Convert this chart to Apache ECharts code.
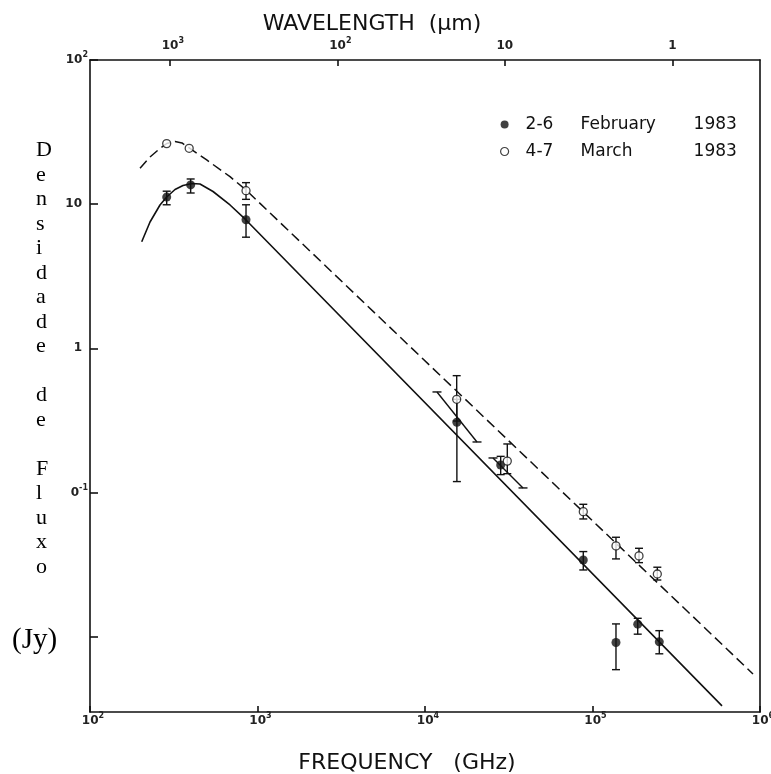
<!DOCTYPE html>
<html>
<head>
<meta charset="utf-8">
<script src="https://cdn.jsdelivr.net/npm/echarts@6/dist/echarts.min.js"></script>
<style>html,body{margin:0;padding:0;background:#fff;overflow:hidden}#c{width:771px;height:774px}</style>
</head>
<body>
<div id="c"></div>
<script>
// ---------- data ----------
const febName = '2-6 February 1983';
const marName = '4-7 March 1983';

const febFreq    = [287, 399, 854, 15500, 28300, 88100, 138100, 186200, 250500];
const febFlux    = [11.2, 13.6, 7.8, 0.307, 0.155, 0.034, 0.0091, 0.0122, 0.0092];
const febErrLow  = [9.9, 11.95, 5.9, 0.119, 0.133, 0.029, 0.0059, 0.0104, 0.0076];
const febErrHigh = [12.3, 14.95, 9.9, 0.443, 0.178, 0.0389, 0.01225, 0.0134, 0.011];

const marFreq    = [287, 391, 854, 15460, 31000, 88100, 138100, 189500, 243800];
const marFlux    = [26.3, 24.4, 12.4, 0.443, 0.165, 0.0736, 0.0426, 0.0363, 0.0272];
const marErrLow  = [null, null, 10.8, 0.313, 0.135, 0.0655, 0.0346, 0.0326, 0.0247];
const marErrHigh = [null, null, 14.1, 0.646, 0.217, 0.0828, 0.0489, 0.041, 0.0303];

const febModelFreq = [203.6, 228.2, 261.7, 287.0, 321.8, 359.1, 406.4, 453.6, 542.5, 685.4, 853.6, 593200];
const febModelFlux = [5.49, 7.52, 9.87, 11.21, 12.64, 13.48, 13.91, 13.80, 12.24, 9.87, 7.77, 0.003306];

const marModelFreq = [198.9, 228.2, 261.7, 287.0, 321.8, 354.2, 391.6, 497.5, 685.4, 853.6, 908300];
const marModelFlux = [17.74, 21.25, 24.33, 26.35, 27.21, 26.57, 24.53, 20.25, 15.51, 12.54, 0.005509];

// slanted spectral-slope bars: start (freq, flux) -> end (freq, flux)
const slopeStartFreq = [11790, 25470];
const slopeStartFlux = [0.498, 0.1735];
const slopeEndFreq   = [20440, 38470];
const slopeEndFlux   = [0.224, 0.1075];

// ticks
const freqTicks = [1e2, 1e3, 1e4, 1e5, 1e6];
const freqTickLabels = ['10^2', '10^3', '10^4', '10^5', '10^6'];
const fluxTicks = [0.01, 0.1, 1, 10, 100];
const fluxTickLabels = ['10^-2', '10^-1', '1', '10', '10^2'];
const wavelengthTicks = [1000, 100, 10, 1];          // micrometres
const wavelengthTickLabels = ['10^3', '10^2', '10', '1'];
const C_GHZ_UM = 2.998e5;                            // nu(GHz) = c / lambda(um)

// ---------- helpers ----------
function pickLabel(v, ticks, labels) {
  let best = -1, bd = Infinity;
  ticks.forEach((t, i) => { const d = Math.abs(Math.log10(v) - Math.log10(t)); if (d < bd) { bd = d; best = i; } });
  return bd < 0.01 ? labels[best] : '';
}
function richX(s) {
  const p = s.split('^');
  return p.length > 1 ? '{bp|' + p[0] + '}{s|' + p[1] + '}' : '{b|' + p[0] + '}';
}
function richY(s) {
  const p = s.split('^');
  return p.length > 1 ? '{b|' + p[0] + '}{s|' + p[1] + '}' : '{bq|' + p[0] + '}';
}
const FF = 'DejaVu Sans';
const baseTok = { fontSize: 12, fontWeight: 'bold', lineHeight: 18, color: '#222', fontFamily: FF };
const richStyles = {
  b: baseTok,
  bp: Object.assign({}, baseTok, { padding: [0, 0, 0, 6] }),
  bq: Object.assign({}, baseTok, { padding: [0, 6, 0, 0] }),
  s: { fontSize: 8, fontWeight: 'bold', lineHeight: 9, verticalAlign: 'top', color: '#222', fontFamily: FF }
};

const zip = (a, b) => a.map((v, i) => [v, b[i]]);
const errRows = (f, lo, hi) => f.map((v, i) => [v, lo[i], hi[i]]).filter(r => r[1] != null);

function errRender(params, api) {
  const x = api.value(0);
  const p1 = api.coord([x, api.value(1)]);
  const p2 = api.coord([x, api.value(2)]);
  const w = 4, st = { stroke: '#111', lineWidth: 1.4 };
  return { type: 'group', children: [
    { type: 'line', shape: { x1: p1[0], y1: p1[1], x2: p2[0], y2: p2[1] }, style: st },
    { type: 'line', shape: { x1: p1[0] - w, y1: p1[1], x2: p1[0] + w, y2: p1[1] }, style: st },
    { type: 'line', shape: { x1: p2[0] - w, y1: p2[1], x2: p2[0] + w, y2: p2[1] }, style: st }
  ]};
}
function slopeRender(params, api) {
  const a = api.coord([api.value(0), api.value(1)]);
  const b = api.coord([api.value(2), api.value(3)]);
  const w = 4.5, st = { stroke: '#111', lineWidth: 1.4 };
  return { type: 'group', children: [
    { type: 'line', shape: { x1: a[0], y1: a[1], x2: b[0], y2: b[1] }, style: st },
    { type: 'line', shape: { x1: a[0] - w, y1: a[1], x2: a[0] + w, y2: a[1] }, style: st },
    { type: 'line', shape: { x1: b[0] - w, y1: b[1], x2: b[0] + w, y2: b[1] }, style: st }
  ]};
}

const axisLineStyle = { color: '#111', width: 1.6 };
const wlFreq = wavelengthTicks.map(l => C_GHZ_UM / l);

const chart = echarts.init(document.getElementById('c'), null, { renderer: 'canvas', width: 771, height: 774 });
chart.setOption({
  animation: false,
  backgroundColor: '#fff',
  textStyle: { fontFamily: FF },
  grid: { left: 90, right: 11, top: 60, bottom: 62, containLabel: false, outerBoundsMode: 'none' },
  xAxis: [
    { type: 'log', min: 100, max: 1e6, position: 'bottom',
      axisLine: { show: true, lineStyle: axisLineStyle },
      axisTick: { show: true, inside: true, length: 6, lineStyle: axisLineStyle, customValues: freqTicks },
      axisLabel: { margin: 0, customValues: freqTicks, rich: richStyles,
        formatter: v => richX(pickLabel(v, freqTicks, freqTickLabels)) },
      splitLine: { show: false }, minorTick: { show: false } },
    { type: 'log', min: 100, max: 1e6, position: 'top',
      axisLine: { show: true, lineStyle: axisLineStyle },
      axisTick: { show: true, inside: true, length: 6, lineStyle: axisLineStyle, customValues: wlFreq },
      axisLabel: { margin: 5, customValues: wlFreq, rich: richStyles,
        formatter: v => richX(pickLabel(v, wlFreq, wavelengthTickLabels)) },
      splitLine: { show: false } }
  ],
  yAxis: [
    { type: 'log', min: 0.003, max: 100, position: 'left',
      axisLine: { show: true, lineStyle: axisLineStyle },
      axisTick: { show: true, inside: true, length: 8, lineStyle: axisLineStyle, customValues: fluxTicks },
      axisLabel: { margin: 2, customValues: fluxTicks, rich: richStyles,
        formatter: v => richY(pickLabel(v, fluxTicks, fluxTickLabels)) },
      splitLine: { show: false } },
    { type: 'log', min: 0.003, max: 100, position: 'right',
      axisLine: { show: true, lineStyle: axisLineStyle },
      axisTick: { show: false }, axisLabel: { show: false }, splitLine: { show: false } }
  ],
  legend: {
    orient: 'vertical', left: 495, top: 111, itemWidth: 8, itemHeight: 8, itemGap: 10,
    selectedMode: false,
    data: [
      { name: febName, icon: 'circle', itemStyle: { color: '#111', borderWidth: 0 } },
      { name: marName, icon: 'circle', itemStyle: { color: '#fff', borderColor: '#111', borderWidth: 1.2 } }
    ],
    formatter: name => { const p = name.split(' '); return '{a|' + p[0] + '}{m|' + p[1] + '}{y|' + p[2] + '}'; },
    textStyle: { rich: {
      a: { fontFamily: FF, fontSize: 17, color: '#111', lineHeight: 20, width: 55, padding: [0, 0, 0, 12] },
      m: { fontFamily: FF, fontSize: 17, color: '#111', lineHeight: 20, width: 113 },
      y: { fontFamily: FF, fontSize: 17, color: '#111', lineHeight: 20 }
    } }
  },
  series: [
    { name: 'febModel', type: 'line', xAxisIndex: 0, yAxisIndex: 0, data: zip(febModelFreq, febModelFlux),
      symbol: 'none', silent: true, z: 2, lineStyle: { color: '#111', width: 1.6 } },
    { name: 'marModel', type: 'line', xAxisIndex: 0, yAxisIndex: 0, data: zip(marModelFreq, marModelFlux),
      symbol: 'none', silent: true, z: 2, lineStyle: { color: '#111', width: 1.5, type: [10, 5] } },
    { name: 'febErr', type: 'custom', xAxisIndex: 0, yAxisIndex: 0, renderItem: errRender, z: 3,
      data: errRows(febFreq, febErrLow, febErrHigh), encode: { x: 0, y: [1, 2] }, silent: true },
    { name: 'marErr', type: 'custom', xAxisIndex: 0, yAxisIndex: 0, renderItem: errRender, z: 3,
      data: errRows(marFreq, marErrLow, marErrHigh), encode: { x: 0, y: [1, 2] }, silent: true },
    { name: 'slopes', type: 'custom', xAxisIndex: 0, yAxisIndex: 0, renderItem: slopeRender, z: 3,
      data: slopeStartFreq.map((f, i) => [f, slopeStartFlux[i], slopeEndFreq[i], slopeEndFlux[i]]),
      encode: { x: [0, 2], y: [1, 3] }, silent: true },
    { name: febName, type: 'scatter', xAxisIndex: 0, yAxisIndex: 0, data: zip(febFreq, febFlux),
      symbol: 'circle', symbolSize: 9, z: 5, itemStyle: { color: '#111' } },
    { name: marName, type: 'scatter', xAxisIndex: 0, yAxisIndex: 0, data: zip(marFreq, marFlux),
      symbol: 'circle', symbolSize: 8, z: 6, itemStyle: { color: '#fff', borderColor: '#111', borderWidth: 1.3 } }
  ],
  graphic: { elements: [
    { type: 'text', x: 372, y: 24, z: 100,
      style: { text: 'WAVELENGTH  (μm)', font: '22px "DejaVu Sans"', fill: '#111',
        textAlign: 'center', align: 'center', textVerticalAlign: 'middle', verticalAlign: 'middle' } },
    { type: 'text', x: 407, y: 763, z: 100,
      style: { text: 'FREQUENCY   (GHz)', font: '22px "DejaVu Sans"', fill: '#111',
        textAlign: 'center', align: 'center', textVerticalAlign: 'middle', verticalAlign: 'middle' } },
    { type: 'rect', z: 100, shape: { x: 0, y: 132, width: 66, height: 455 }, style: { fill: '#fff' } },
    { type: 'rect', z: 100, shape: { x: 0, y: 480, width: 71, height: 26 }, style: { fill: '#fff' } },
    { type: 'rect', z: 100, shape: { x: 0, y: 624, width: 88, height: 32 }, style: { fill: '#fff' } },
    { type: 'text', x: 36, y: 138, z: 101,
      style: { text: 'D\ne\nn\ns\ni\nd\na\nd\ne\n\nd\ne\n\nF\nl\nu\nx\no', font: '22px "Liberation Serif"',
        fill: '#000', lineHeight: 24.5, textAlign: 'left', align: 'left', textVerticalAlign: 'top', verticalAlign: 'top' } },
    { type: 'text', x: 12, y: 640, z: 101,
      style: { text: '(Jy)', font: '29px "Liberation Serif"', fill: '#000',
        textAlign: 'left', align: 'left', textVerticalAlign: 'middle', verticalAlign: 'middle' } }
  ] }
});
</script>
</body>
</html>
